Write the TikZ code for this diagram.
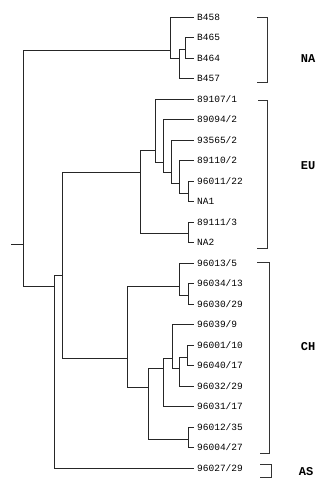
\documentclass[tikz,border=0pt]{standalone}
\usepackage{fontspec}
\setmonofont{Liberation Mono}
\usetikzlibrary{positioning}
\tikzset{
    branch/.style={draw=black!85, line width=0.9pt},
    leaf/.style={anchor=west, inner xsep=3pt, inner ysep=1pt,
        font=\ttfamily\fontsize{9.5}{10}\selectfont},
    bracket/.style={draw=black!80, line width=0.9pt},
    grouplabel/.style={font=\ttfamily\bfseries\fontsize{12}{13}\selectfont},
}
\begin{document}
\begin{tikzpicture}[x=1pt, y=-1pt]
                \fill[white] (0,0) rectangle (335,487);
                \useasboundingbox (0,0) rectangle (335,487);

                % Leaves
                \node[leaf] (b458) at (194, 17) {B458};
                \node[leaf] (b465) at (194, 37.5) {B465};
                \node[leaf] (b464) at (194, 58) {B464};
                \node[leaf] (b457) at (194, 78.5) {B457};
                \node[leaf] (n89107) at (194, 99) {89107/1};
                \node[leaf] (n89094) at (194, 119.5) {89094/2};
                \node[leaf] (n93565) at (194, 140) {93565/2};
                \node[leaf] (n89110) at (194, 160.5) {89110/2};
                \node[leaf] (n96011) at (194, 181) {96011/22};
                \node[leaf] (na1) at (194, 201.5) {NA1};
                \node[leaf] (n89111) at (194, 222) {89111/3};
                \node[leaf] (na2) at (194, 242.5) {NA2};
                \node[leaf] (n96013) at (194, 263) {96013/5};
                \node[leaf] (n96034) at (194, 283.5) {96034/13};
                \node[leaf] (n96030) at (194, 304) {96030/29};
                \node[leaf] (n96039) at (194, 324.5) {96039/9};
                \node[leaf] (n96001) at (194, 345) {96001/10};
                \node[leaf] (n96040) at (194, 365.5) {96040/17};
                \node[leaf] (n96032) at (194, 386) {96032/29};
                \node[leaf] (n96031) at (194, 406.5) {96031/17};
                \node[leaf] (n96012) at (194, 427) {96012/35};
                \node[leaf] (n96004) at (194, 447.5) {96004/27};
                \node[leaf] (n96027) at (194, 468) {96027/29};

                % Inner nodes
                \coordinate (stub) at (11, 244);
                \coordinate (root) at (23, 244);
                \coordinate (na) at (170, 50);
                \coordinate (nab) at (179, 58);
                \coordinate (nac) at (185, 49);
                \coordinate (outer) at (54, 286);
                \coordinate (euch) at (62, 275);
                \coordinate (eu) at (140, 172);
                \coordinate (eua) at (155, 150);
                \coordinate (eub) at (163, 162);
                \coordinate (euc) at (171, 172);
                \coordinate (eud) at (179, 183);
                \coordinate (eue) at (188, 193);
                \coordinate (euf) at (188, 233);
                \coordinate (ch) at (127, 358);
                \coordinate (cha) at (179, 286);
                \coordinate (chb) at (188, 295);
                \coordinate (chc) at (148, 387);
                \coordinate (chd) at (163, 368);
                \coordinate (che) at (172, 358);
                \coordinate (chf) at (179, 368);
                \coordinate (chg) at (187, 357);
                \coordinate (chh) at (188, 439);

                % Branches
                \draw[branch] (stub) -- (root);
                \draw[branch] (root) |- (na);
                \draw[branch] (root) |- (outer);
                \draw[branch] (na) |- (b458.west);
                \draw[branch] (na) |- (nab);
                \draw[branch] (nab) |- (nac);
                \draw[branch] (nab) |- (b457.west);
                \draw[branch] (nac) |- (b465.west);
                \draw[branch] (nac) |- (b464.west);
                \draw[branch] (outer) |- (euch);
                \draw[branch] (outer) |- (n96027.west);
                \draw[branch] (euch) |- (eu);
                \draw[branch] (euch) |- (ch);
                \draw[branch] (eu) |- (eua);
                \draw[branch] (eu) |- (euf);
                \draw[branch] (eua) |- (n89107.west);
                \draw[branch] (eua) |- (eub);
                \draw[branch] (eub) |- (n89094.west);
                \draw[branch] (eub) |- (euc);
                \draw[branch] (euc) |- (n93565.west);
                \draw[branch] (euc) |- (eud);
                \draw[branch] (eud) |- (n89110.west);
                \draw[branch] (eud) |- (eue);
                \draw[branch] (eue) |- (n96011.west);
                \draw[branch] (eue) |- (na1.west);
                \draw[branch] (euf) |- (n89111.west);
                \draw[branch] (euf) |- (na2.west);
                \draw[branch] (ch) |- (cha);
                \draw[branch] (ch) |- (chc);
                \draw[branch] (cha) |- (n96013.west);
                \draw[branch] (cha) |- (chb);
                \draw[branch] (chb) |- (n96034.west);
                \draw[branch] (chb) |- (n96030.west);
                \draw[branch] (chc) |- (chd);
                \draw[branch] (chc) |- (chh);
                \draw[branch] (chd) |- (che);
                \draw[branch] (chd) |- (n96031.west);
                \draw[branch] (che) |- (n96039.west);
                \draw[branch] (che) |- (chf);
                \draw[branch] (chf) |- (chg);
                \draw[branch] (chf) |- (n96032.west);
                \draw[branch] (chg) |- (n96001.west);
                \draw[branch] (chg) |- (n96040.west);
                \draw[branch] (chh) |- (n96012.west);
                \draw[branch] (chh) |- (n96004.west);

                % Brackets
                \draw[bracket] (257, 17) -| (267, 82) -- (257, 82);
                \draw[bracket] (258, 100) -| (267, 248) -- (257, 248);
                \draw[bracket] (257, 262) -| (269, 453) -- (260, 453);
                \draw[bracket] (260, 464) -| (271, 477) -- (260, 477);

                % Group labels
                \node[grouplabel] (lna) at (308, 59) {NA};
                \node[grouplabel] (leu) at (308, 166) {EU};
                \node[grouplabel] (lch) at (308, 347) {CH};
                \node[grouplabel] (las) at (306, 472) {AS};
            \end{tikzpicture}
\end{document}
